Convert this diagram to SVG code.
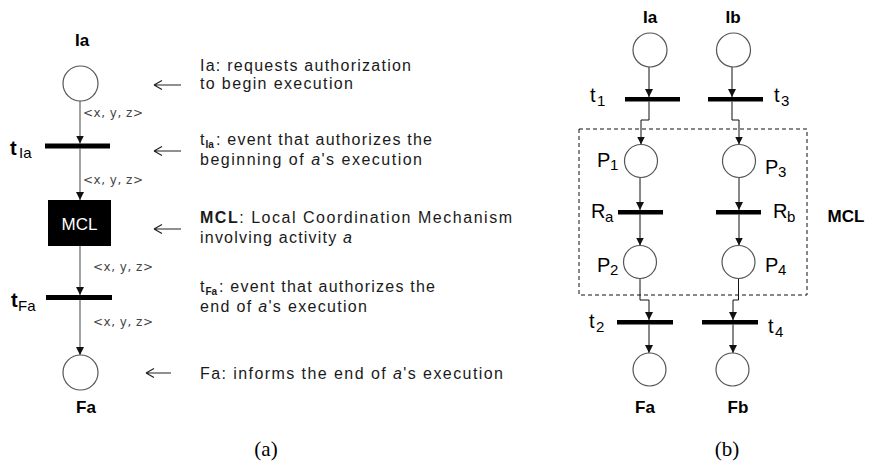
<svg xmlns="http://www.w3.org/2000/svg" width="870" height="465" viewBox="0 0 870 465">
  <defs>
    <marker id="tip" viewBox="0 0 8 8" refX="8" refY="4" markerWidth="8" markerHeight="8" markerUnits="userSpaceOnUse" orient="auto">
      <path d="M0,0 L8,4 L0,8 z" fill="#111"/>
    </marker>
    <style>
      .place { fill: #fff; stroke: #555; stroke-width: 1.2; }
      .bar { fill: #000; }
      .arc { fill: none; stroke: #555; stroke-width: 1.1; marker-end: url(#tip); }
      .arcb { fill: none; stroke: #111; stroke-width: 1; marker-end: url(#tip); }
      .pointer { fill: none; stroke: #222; stroke-width: 1.2; }
      .name { font-family: "Liberation Sans", Arial, sans-serif; font-weight: bold; font-size: 17px; fill: #000; text-anchor: middle; }
      .lbl { font-family: "Liberation Sans", Arial, sans-serif; font-size: 20px; fill: #000; }
      .sub { font-family: "Liberation Sans", Arial, sans-serif; font-size: 15px; fill: #000; }
      .desc { font-family: "Liberation Sans", Arial, sans-serif; font-size: 16px; fill: #1a1a1a; }
      .dsub { font-family: "Liberation Sans", Arial, sans-serif; font-size: 10px; font-weight: bold; fill: #1a1a1a; }
      .tuple { font-family: "DejaVu Sans", Verdana, sans-serif; font-size: 12px; fill: #444; }
      .cap { font-family: "Liberation Serif", "Times New Roman", serif; font-size: 21px; fill: #000; text-anchor: middle; }
    </style>
  </defs>
  <rect width="870" height="465" fill="#fff"/>

  <!-- (a) single activity net -->
  <g id="a-connectors">
    <path class="arc" d="M80,101 V143.5"/>
    <path class="arc" d="M80,148.5 V200"/>
    <path class="arc" d="M80,246 V295"/>
    <path class="arc" d="M80,300 V355"/>
  </g>
  <g id="a-Ia">
    <circle class="place" cx="80.5" cy="83.5" r="17.5"/>
    <text class="name" x="82" y="46">Ia</text>
  </g>
  <g id="a-tIa">
    <rect class="bar" x="45" y="143.5" width="65" height="5"/>
    <text class="lbl" x="10" y="155" font-weight="bold">t</text>
    <text class="sub" x="19" y="158" font-size="14">Ia</text>
  </g>
  <g id="a-MCL">
    <rect x="48" y="200" width="63" height="46" fill="#000"/>
    <text x="79.5" y="230" font-family="Liberation Sans, Arial, sans-serif" font-size="17" fill="#fff" text-anchor="middle">MCL</text>
  </g>
  <g id="a-tFa">
    <rect class="bar" x="46" y="295" width="66" height="5"/>
    <text class="lbl" x="11" y="307" font-weight="bold">t</text>
    <text class="sub" x="18" y="311" font-size="14">Fa</text>
  </g>
  <g id="a-Fa">
    <circle class="place" cx="80.5" cy="372.5" r="17.5"/>
    <text class="name" x="86" y="413">Fa</text>
  </g>
  <g id="a-tuples">
    <text class="tuple" x="83" y="117" textLength="60">&lt;x, y, z&gt;</text>
    <text class="tuple" x="83" y="184" textLength="60">&lt;x, y, z&gt;</text>
    <text class="tuple" x="93" y="271" textLength="60">&lt;x, y, z&gt;</text>
    <text class="tuple" x="93" y="326" textLength="60">&lt;x, y, z&gt;</text>
  </g>

  <!-- legend of (a) -->
  <g id="legend">
    <path class="pointer" d="M154,85 H181 M154,85 L162,80.5 M154,85 L162,89.5"/>
    <path class="pointer" d="M154,151 H181 M154,151 L162,146.5 M154,151 L162,155.5"/>
    <path class="pointer" d="M154,229 H181 M154,229 L162,224.5 M154,229 L162,233.5"/>
    <path class="pointer" d="M146,373 H171 M146,373 L154,368.5 M146,373 L154,377.5"/>

    <text class="desc" x="200" y="71" textLength="211">Ia: requests authorization</text>
    <text class="desc" x="200" y="89" textLength="153">to begin execution</text>

    <text class="desc" x="200" y="145">t</text>
    <text class="dsub" x="205.5" y="148">Ia</text>
    <text class="desc" x="216" y="145" textLength="216">: event that authorizes the</text>
    <text class="desc" x="200" y="165" textLength="222">beginning of  <tspan font-style="italic">a</tspan>'s execution</text>

    <text class="desc" x="200" y="223" textLength="312"><tspan font-weight="bold">MCL</tspan>: Local Coordination Mechanism</text>
    <text class="desc" x="200" y="243" textLength="152">involving activity <tspan font-style="italic">a</tspan></text>

    <text class="desc" x="200" y="292">t</text>
    <text class="dsub" x="205.5" y="295">Fa</text>
    <text class="desc" x="219" y="292" textLength="216">: event that authorizes the</text>
    <text class="desc" x="200" y="312" textLength="167">end of <tspan font-style="italic">a</tspan>'s execution</text>

    <text class="desc" x="200" y="379" textLength="303">Fa: informs the end of  <tspan font-style="italic">a</tspan>'s execution</text>
  </g>

  <!-- (b) two activities sharing a coordination mechanism -->
  <g id="b-connectors">
    <path class="arcb" d="M649,67 V97"/>
    <path class="arcb" d="M649,101.5 V120 H641 V144.5"/>
    <path class="arcb" d="M732,67 V97"/>
    <path class="arcb" d="M732,101.5 V120 H739 V144.5"/>
    <path class="arcb" d="M640,177.5 V210"/>
    <path class="arcb" d="M640,214.5 V245.5"/>
    <path class="arcb" d="M739,177.5 V210"/>
    <path class="arcb" d="M739,214.5 V245.5"/>
    <path class="arcb" d="M640,278.5 V300 H649 V320"/>
    <path class="arcb" d="M649,324.5 V353"/>
    <path class="arcb" d="M738.5,278.5 V300 H733 V320"/>
    <path class="arcb" d="M733,324.5 V353"/>
  </g>
  <g id="b-MCL">
    <rect x="579" y="129" width="228" height="166" fill="none" stroke="#111" stroke-width="1" stroke-dasharray="4,3"/>
    <text class="name" x="846" y="222" font-size="19">MCL</text>
  </g>
  <g id="b-Ia">
    <circle class="place" cx="650" cy="50" r="17"/>
    <text class="name" x="650" y="23">Ia</text>
  </g>
  <g id="b-Ib">
    <circle class="place" cx="733.5" cy="50" r="17"/>
    <text class="name" x="733" y="23">Ib</text>
  </g>
  <g id="b-t1">
    <rect class="bar" x="625" y="97" width="55" height="4.5"/>
    <text class="lbl" x="590" y="102">t</text>
    <text class="sub" x="597" y="106">1</text>
  </g>
  <g id="b-t3">
    <rect class="bar" x="708" y="97" width="55" height="4.5"/>
    <text class="lbl" x="774" y="102">t</text>
    <text class="sub" x="781" y="106">3</text>
  </g>
  <g id="b-P1">
    <circle class="place" cx="641" cy="161" r="16.5"/>
    <text class="lbl" x="597" y="167">P</text>
    <text class="sub" x="610" y="170">1</text>
  </g>
  <g id="b-P3">
    <circle class="place" cx="739" cy="161" r="16.5"/>
    <text class="lbl" x="765" y="174">P</text>
    <text class="sub" x="778" y="177">3</text>
  </g>
  <g id="b-Ra">
    <rect class="bar" x="618" y="210" width="45" height="4.5"/>
    <text class="lbl" x="591" y="218">R</text>
    <text class="sub" x="605" y="222">a</text>
  </g>
  <g id="b-Rb">
    <rect class="bar" x="716" y="210" width="45" height="4.5"/>
    <text class="lbl" x="773" y="218">R</text>
    <text class="sub" x="787" y="222">b</text>
  </g>
  <g id="b-P2">
    <circle class="place" cx="640" cy="262" r="16.5"/>
    <text class="lbl" x="597" y="272">P</text>
    <text class="sub" x="610" y="275">2</text>
  </g>
  <g id="b-P4">
    <circle class="place" cx="738.5" cy="262" r="16.5"/>
    <text class="lbl" x="765" y="272">P</text>
    <text class="sub" x="778" y="275">4</text>
  </g>
  <g id="b-t2">
    <rect class="bar" x="617" y="320" width="56" height="4.5"/>
    <text class="lbl" x="589" y="328">t</text>
    <text class="sub" x="596" y="332">2</text>
  </g>
  <g id="b-t4">
    <rect class="bar" x="702" y="320" width="56" height="4.5"/>
    <text class="lbl" x="768" y="333">t</text>
    <text class="sub" x="775" y="337">4</text>
  </g>
  <g id="b-Fa">
    <circle class="place" cx="649.5" cy="369.5" r="16.5"/>
    <text class="name" x="645" y="413">Fa</text>
  </g>
  <g id="b-Fb">
    <circle class="place" cx="732.5" cy="369.5" r="16.5"/>
    <text class="name" x="738" y="413">Fb</text>
  </g>

  <text class="cap" x="266" y="456">(a)</text>
  <text class="cap" x="727" y="456">(b)</text>
</svg>
